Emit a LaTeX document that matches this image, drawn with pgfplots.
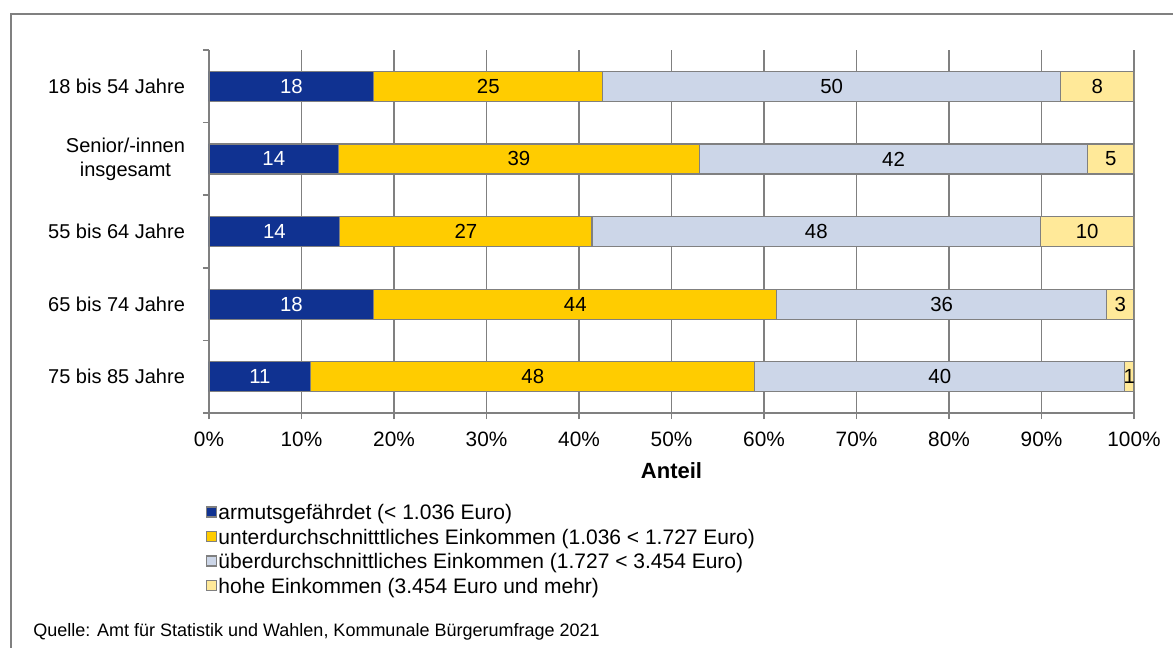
\documentclass[border=0pt]{standalone}
\usepackage{fontspec}
\setmainfont{Liberation Sans}
\usepackage{pgfplots}
\usepackage{pgfplotstable}
\pgfplotsset{compat=1.18}

\definecolor{cA}{RGB}{16,50,145}
\definecolor{cB}{RGB}{255,204,0}
\definecolor{cC}{RGB}{204,214,232}
\definecolor{cD}{RGB}{255,233,153}
\definecolor{lgray}{RGB}{128,128,128}

% shares (normalised to 100 %) and the printed rounded values
\pgfplotstableread{
pos a     b     c     d     la lb lc ld
4   17.82 24.75 49.50 7.93  18 25 50 8
3   14.00 39.00 42.00 5.00  14 39 42 5
2   14.14 27.27 48.48 10.11 14 27 48 10
1   17.82 43.56 35.64 2.98  18 44 36 3
0   11.00 48.00 40.00 1.00  11 48 40 1
}\data

\pgfplotsset{
  base/.style={scale only axis, width=462.5pt, height=181.5pt,
    xmin=0, xmax=100, ymin=-0.5, ymax=4.5,
    at={(104.5pt,-206.5pt)}, anchor=south west},
  seg/.style={fill=#1, draw=lgray, line width=0.6pt},
  lab/.style={draw=none, mark=none, nodes near coords, point meta=explicit symbolic,
    every node near coord/.style={anchor=center, inner sep=0pt, font=\fontsize{10.2}{12}\selectfont, text=#1}},
}

\begin{document}
\begin{tikzpicture}
\useasboundingbox (0,0) rectangle (586.5pt,-324pt);
\draw[lgray, line width=1pt] (5.5pt,-7pt) rectangle (600pt,-340pt);

\begin{axis}[base, xbar stacked, bar width=15pt,
    /pgf/number format/assume math mode=true,
    axis x line*=bottom, axis y line*=left,
    axis line style={lgray, line width=0.85pt},
    tick style={lgray, line width=0.85pt},
    tick align=outside, major tick length=3pt, minor tick length=3pt,
    xtick={0,10,...,100}, xticklabel={\pgfmathprintnumber{\tick}\%},
    xmajorgrids, grid style={lgray, line width=0.85pt},
    ytick={0,...,4},
    yticklabels={75 bis 85 Jahre, 65 bis 74 Jahre, 55 bis 64 Jahre, {Senior/-innen\\insgesamt}, 18 bis 54 Jahre},
    major y tick style={draw=none},
    minor ytick={-0.5,0.5,...,4.5},
    yticklabel style={align=center, font=\fontsize{10}{12}\selectfont, xshift=-5.5pt},
    xticklabel style={font=\fontsize{10.4}{12}\selectfont, yshift=-3pt},
    xlabel={\textbf{Anteil}}, xlabel style={font=\fontsize{11}{13}\selectfont, yshift=-1pt},
    legend style={draw=none, fill=none, at={(-0.004,-0.245)}, anchor=north west,
      font=\fontsize{10.5}{12}\selectfont, row sep=0pt, inner sep=0pt,
      nodes={inner sep=0.8pt, text height=8pt, text depth=2.65pt}},
    legend cell align=left,
    legend image code/.code={\draw[#1, line width=0.6pt] (0pt,-1.2pt) rectangle (5pt,3.8pt);},
  ]
\addplot[seg=cA] table[x=a, y=pos]{\data};
\addplot[seg=cB] table[x=b, y=pos]{\data};
\addplot[seg=cC] table[x=c, y=pos]{\data};
\addplot[seg=cD] table[x=d, y=pos]{\data};
\addlegendentry{armutsgefährdet (< 1.036 Euro)}
\addlegendentry{unterdurchschnitttliches Einkommen (1.036 < 1.727 Euro)}
\addlegendentry{überdurchschnittliches Einkommen (1.727 < 3.454 Euro)}
\addlegendentry{hohe Einkommen (3.454 Euro und mehr)}
\end{axis}

\begin{axis}[base, hide axis, clip=false]
\addplot[lab=white] table[x expr=\thisrow{a}/2, y=pos, meta=la]{\data};
\addplot[lab=black] table[x expr=\thisrow{a}+\thisrow{b}/2, y=pos, meta=lb]{\data};
\addplot[lab=black] table[x expr=\thisrow{a}+\thisrow{b}+\thisrow{c}/2, y=pos, meta=lc]{\data};
\addplot[lab=black] table[x expr=\thisrow{a}+\thisrow{b}+\thisrow{c}+\thisrow{d}/2, y=pos, meta=ld]{\data};
\end{axis}

\node[anchor=west, font=\fontsize{9}{10}\selectfont, inner sep=0pt] at (16.5pt,-316pt)
  {Quelle: Amt für Statistik und Wahlen, Kommunale Bürgerumfrage 2021};
\end{tikzpicture}
\end{document}
